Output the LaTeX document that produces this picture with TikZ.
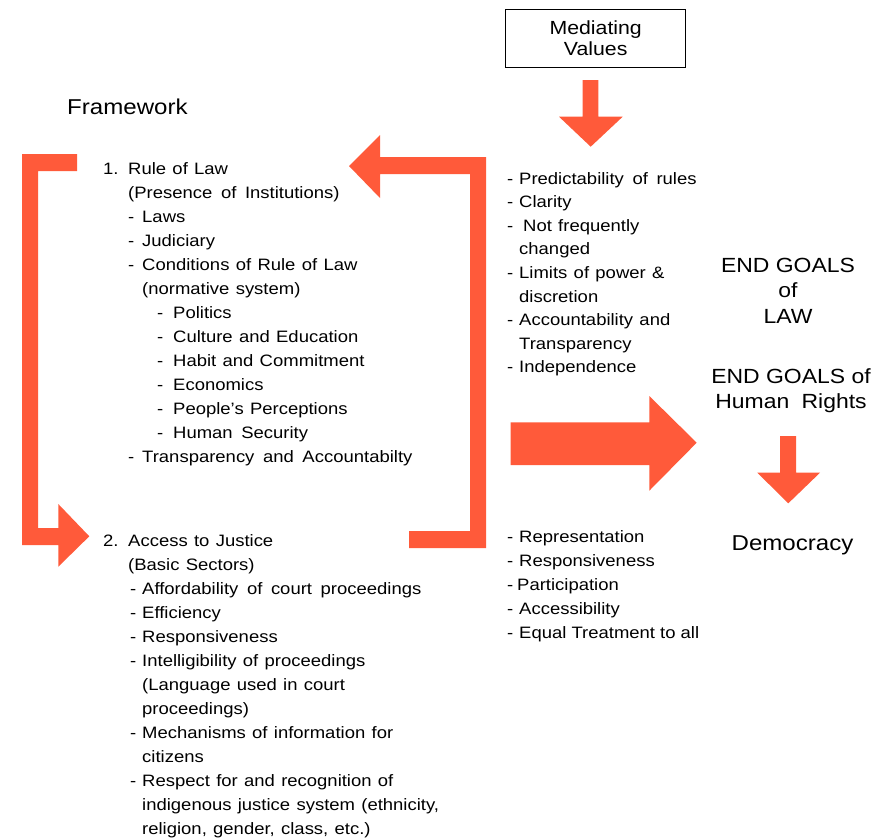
\documentclass[tikz,border=0pt]{standalone}
\usepackage{fontspec}
\setmainfont{Liberation Sans}[FakeStretch=1.12]
\definecolor{arrowred}{RGB}{255,90,58}
\newcommand\bodyf{\fontsize{16.5}{24}\selectfont\spaceskip=6.3pt plus 1pt\relax}
\newcommand\widef{\fontsize{16.5}{24}\selectfont\spaceskip=8.6pt plus 1pt\relax}
\newcommand\plainf{\fontsize{16.5}{24}\selectfont\spaceskip=5.1pt plus 1pt\relax}
\newcommand\bigf{\fontsize{20.5}{25.5}\selectfont}
\begin{document}
\begin{tikzpicture}[x=1pt,y=-1pt,
  txt/.style={anchor=base west,inner sep=0pt,font=\bodyf},
  widetxt/.style={txt,font=\widef},
  plaintxt/.style={txt,font=\plainf},
  big/.style={anchor=base,inner sep=0pt,font=\bigf},
  blockarrow/.style={fill=arrowred,draw=none}]
\useasboundingbox (0,0) rectangle (888,838);

% ---------- orange shapes ----------
% left bracket arrow
\fill[blockarrow] (22,154) -- (77,154) -- (77,171) -- (38,171) -- (38,528) -- (58.3,528)
  -- (58.3,504) -- (89.3,536.3) -- (58.3,566.7) -- (58.3,545) -- (22,545) -- cycle;
% right bracket arrow
\fill[blockarrow] (349,166) -- (380,135) -- (380,157) -- (486,157) -- (486,548) -- (409,548)
  -- (409,531) -- (470,531) -- (470,174) -- (380,174) -- (380,198) -- cycle;
% arrow under Mediating Values
\fill[blockarrow] (582.7,80) -- (598.3,80) -- (598.3,116.7) -- (622.7,116.7) -- (590.7,146.7)
  -- (559,116.7) -- (582.7,116.7) -- cycle;
% big right arrow
\fill[blockarrow] (510.7,422.3) -- (649.3,422.3) -- (649.3,396) -- (696.7,442.7) -- (649.3,490.7)
  -- (649.3,465) -- (510.7,465) -- cycle;
% small down arrow
\fill[blockarrow] (780,436) -- (796,436) -- (796,472.7) -- (820,472.7) -- (788.3,503.3)
  -- (757.3,472.7) -- (780,472.7) -- cycle;

% ---------- Mediating Values ----------
\node[draw=black,line width=0.9pt,minimum width=180pt,minimum height=58.4pt,inner sep=0pt,
  align=center,font=\fontsize{19}{21}\selectfont] (mv) at (595.7,38.5) {Mediating\\Values};

% ---------- Framework ----------
\node[anchor=base west,inner sep=0pt,font=\fontsize{21.5}{26}\selectfont] (fw) at (67,114) {Framework};

% ---------- Rule of Law block ----------
\node[txt] (r0n) at (103,174) {1.};
\node[txt] (r0) at (128,174) {Rule of Law};
\node[widetxt] (r1) at (128,198) {(Presence of Institutions)};
\node[txt] (r2d) at (128,222) {-};
\node[txt] (r2) at (142,222) {Laws};
\node[txt] (r3d) at (128,246) {-};
\node[txt] (r3) at (142,246) {Judiciary};
\node[txt] (r4d) at (128,270) {-};
\node[txt] (r4) at (142,270) {Conditions of Rule of Law};
\node[txt] (r5) at (142,294) {(normative system)};
\node[txt] (r6d) at (157,318) {-};
\node[txt] (r6) at (173,318) {Politics};
\node[txt] (r7d) at (157,342) {-};
\node[txt] (r7) at (173,342) {Culture and Education};
\node[txt] (r8d) at (157,366) {-};
\node[txt] (r8) at (173,366) {Habit and Commitment};
\node[txt] (r9d) at (157,390) {-};
\node[txt] (r9) at (173,390) {Economics};
\node[txt] (r10d) at (157,414) {-};
\node[txt] (r10) at (173,414) {People’s Perceptions};
\node[txt] (r11d) at (157,438) {-};
\node[widetxt] (r11) at (173,438) {Human Security};
\node[txt] (r12d) at (128,462) {-};
\node[widetxt] (r12) at (142,462) {Transparency and Accountabilty};

% ---------- Access to Justice block ----------
\node[txt] (a0n) at (103,546) {2.};
\node[txt] (a0) at (128,546) {Access to Justice};
\node[txt] (a1) at (128,570) {(Basic Sectors)};
\node[txt] (a2d) at (130,594) {-};
\node[widetxt] (a2) at (142,594) {Affordability of court proceedings};
\node[txt] (a3d) at (130,618) {-};
\node[txt] (a3) at (142,618) {Efficiency};
\node[txt] (a4d) at (130,642) {-};
\node[txt] (a4) at (142,642) {Responsiveness};
\node[txt] (a5d) at (130,666) {-};
\node[txt] (a5) at (142,666) {Intelligibility of proceedings};
\node[txt] (a6) at (142,690) {(Language used in court};
\node[txt] (a7) at (142,714) {proceedings)};
\node[txt] (a8d) at (130,738) {-};
\node[txt] (a8) at (142,738) {Mechanisms of information for};
\node[txt] (a9) at (142,762) {citizens};
\node[txt] (a10d) at (130,786) {-};
\node[txt] (a10) at (142,786) {Respect for and recognition of};
\node[txt] (a11) at (142,810) {indigenous justice system (ethnicity,};
\node[txt] (a12) at (142,834) {religion, gender, class, etc.)};

% ---------- Mediating values list (top) ----------
\node[txt] (m0d) at (507,184) {-};
\node[widetxt] (m0) at (519,184) {Predictability of rules};
\node[txt] (m1d) at (507,207.6) {-};
\node[txt] (m1) at (519,207.6) {Clarity};
\node[txt] (m2d) at (507,231.2) {-};
\node[txt] (m2) at (523,231.2) {Not frequently};
\node[txt] (m3) at (519,254.8) {changed};
\node[txt] (m4d) at (507,278.4) {-};
\node[txt] (m4) at (519,278.4) {Limits of power \&};
\node[txt] (m5) at (519,302) {discretion};
\node[txt] (m6d) at (507,325.6) {-};
\node[txt] (m6) at (519,325.6) {Accountability and};
\node[txt] (m7) at (519,349.2) {Transparency};
\node[txt] (m8d) at (507,372.8) {-};
\node[txt] (m8) at (519,372.8) {Independence};

% ---------- Mediating values list (bottom) ----------
\node[txt] (b0d) at (507,542) {-};
\node[txt] (b0) at (519,542) {Representation};
\node[txt] (b1d) at (507,566) {-};
\node[txt] (b1) at (519,566) {Responsiveness};
\node[txt] (b2d) at (507,590) {-};
\node[txt] (b2) at (517,590) {Participation};
\node[txt] (b3d) at (507,614) {-};
\node[txt] (b3) at (519,614) {Accessibility};
\node[txt] (b4d) at (507,638) {-};
\node[plaintxt] (b4) at (519,638) {Equal Treatment to all};

% ---------- End goals ----------
\node[big] (e1) at (788,272) {END GOALS};
\node[big] (e2) at (788,297.5) {of};
\node[big] (e3) at (788,323) {LAW};
\node[big] (h1) at (791,383) {END GOALS of};
\node[big] (h2) at (791,408.5) {Human\hspace{0.6em}Rights};
\node[anchor=base,inner sep=0pt,font=\fontsize{21.5}{26}\selectfont] (dem) at (792.5,550) {Democracy};
\end{tikzpicture}
\end{document}
